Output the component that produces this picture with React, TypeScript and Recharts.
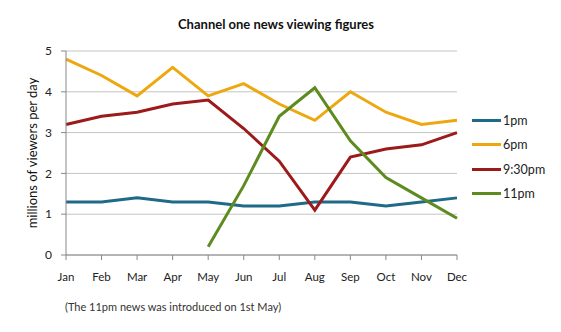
import { LineChart, Line, XAxis, YAxis, CartesianGrid } from 'recharts'

const months = ['Jan', 'Feb', 'Mar', 'Apr', 'May', 'Jun', 'Jul', 'Aug', 'Sep', 'Oct', 'Nov', 'Dec']
const onePm = [1.3, 1.3, 1.4, 1.3, 1.3, 1.2, 1.2, 1.3, 1.3, 1.2, 1.3, 1.4]
const sixPm = [4.8, 4.4, 3.9, 4.6, 3.9, 4.2, 3.7, 3.3, 4.0, 3.5, 3.2, 3.3]
const nineThirtyPm = [3.2, 3.4, 3.5, 3.7, 3.8, 3.1, 2.3, 1.1, 2.4, 2.6, 2.7, 3.0]
// 11pm news only started in May
const elevenPm = [null, null, null, null, 0.2, 1.7, 3.4, 4.1, 2.8, 1.9, 1.4, 0.9]
const yTicks = [0, 1, 2, 3, 4, 5]

const series = [
  { key: 'p1', name: '1pm', color: '#1f6a87' },
  { key: 'p6', name: '6pm', color: '#eea80f' },
  { key: 'p930', name: '9:30pm', color: '#9c1a1a' },
  { key: 'p11', name: '11pm', color: '#5d8b1f' },
]

const data = months.map((m, i) => ({
  month: m,
  p1: onePm[i],
  p6: sixPm[i],
  p930: nineThirtyPm[i],
  p11: elevenPm[i],
}))

const font = 'Lato, "Open Sans", sans-serif'

function LegendBox() {
  return (
    <div style={{ position: 'absolute', left: 472, top: 108, fontFamily: font, fontSize: 12.5, color: '#222' }}>
      {series.map((s) => (
        <div key={s.key} style={{ display: 'flex', alignItems: 'center', height: 24.5 }}>
          <span style={{ display: 'inline-block', width: 29, height: 3, background: s.color }} />
          <span style={{ marginLeft: 2 }}>{s.name}</span>
        </div>
      ))}
    </div>
  )
}

export default function App() {
  return (
    <div style={{ position: 'relative', width: 561, height: 332, background: '#fff', fontFamily: font }}>
      <style>{'body{margin:0}'}</style>
      <div style={{ position: 'absolute', top: 16, left: 0, width: 552, textAlign: 'center', fontSize: 13, fontWeight: 700, color: '#111' }}>
        Channel one news viewing figures
      </div>
      <LineChart width={561} height={332} data={data} margin={{ top: 51, right: 104, left: 0, bottom: 47 }}>
        <CartesianGrid horizontal vertical={false} stroke="#c4c4c4" />
        <XAxis
          dataKey="month"
          height={30}
          tickSize={5}
          tickMargin={13}
          stroke="#888"
          tick={{ fill: '#222', fontSize: 11.5, fontFamily: font }}
        />
        <YAxis
          width={66}
          domain={[0, 5]}
          ticks={yTicks}
          tickSize={5}
          tickMargin={9}
          stroke="#888"
          tick={{ fill: '#222', fontSize: 12, fontFamily: font }}
          label={{
            value: 'millions of viewers per day',
            angle: -90,
            position: 'insideLeft',
            offset: 32,
            style: { textAnchor: 'middle', fill: '#111', fontSize: 13, fontFamily: font },
          }}
        />
        {series.map((s) => (
          <Line
            key={s.key}
            type="linear"
            dataKey={s.key}
            name={s.name}
            stroke={s.color}
            strokeWidth={3}
            dot={false}
            activeDot={false}
            isAnimationActive={false}
          />
        ))}
      </LineChart>
      <LegendBox />
      <div style={{ position: 'absolute', top: 300, left: 65, fontSize: 11, color: '#333' }}>
        (The 11pm news was introduced on 1st May)
      </div>
    </div>
  )
}
